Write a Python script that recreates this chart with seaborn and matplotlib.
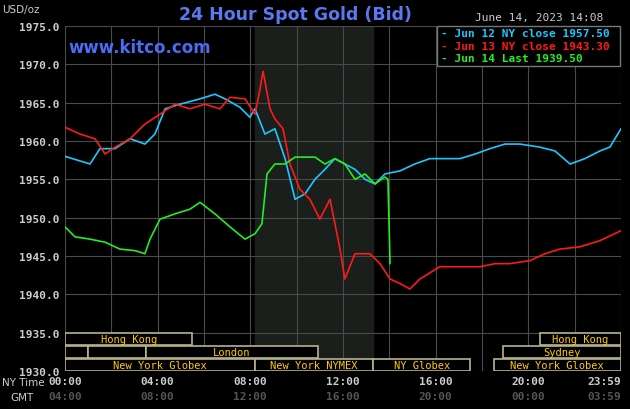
import matplotlib
matplotlib.use("Agg")
import matplotlib.pyplot as plt
from matplotlib.patches import Rectangle
import seaborn as sns
import pandas as pd

# hours since 00:00 NY time, spot price in USD/oz
jun12_hours = [0, 1.08, 1.51, 2.16, 2.81, 3.45, 3.88, 4.32, 4.96, 5.83, 6.47, 6.91, 7.55, 7.98, 8.2, 8.63,
               9.06, 9.5, 9.93, 10.36, 10.79, 11.22, 11.65, 12.08, 12.52, 12.95, 13.38, 13.81, 14.46,
               15.1, 15.75, 16.4, 17.05, 17.7, 18.34, 18.99, 19.64, 20.5, 21.15, 21.8, 22.44, 23.09,
               23.52, 24.0]
jun12_price = [1958.0, 1957.0, 1959.0, 1959.0, 1960.3, 1959.6, 1960.9, 1964.2, 1964.8, 1965.5, 1966.1,
               1965.5, 1964.4, 1963.1, 1964.2, 1960.9, 1961.6, 1957.7, 1952.4, 1953.1, 1955.0, 1956.3,
               1957.7, 1957.0, 1956.3, 1955.0, 1954.4, 1955.7, 1956.1, 1957.0, 1957.7, 1957.7, 1957.7,
               1958.3, 1959.0, 1959.6, 1959.6, 1959.2, 1958.7, 1957.0, 1957.7, 1958.7, 1959.2, 1961.6]

jun13_hours = [0, 0.65, 1.29, 1.73, 2.16, 2.81, 3.45, 4.1, 4.75, 5.39, 6.04, 6.69, 7.12, 7.77, 8.2, 8.42,
               8.55, 8.85, 9.06, 9.41, 9.71, 10.14, 10.57, 11.0, 11.44, 11.87, 12.08, 12.52, 13.16,
               13.6, 14.03, 14.46, 14.89, 15.32, 16.18, 17.05, 17.91, 18.56, 19.2, 20.07, 20.72,
               21.36, 22.23, 23.09, 24.0]
jun13_price = [1961.8, 1960.9, 1960.3, 1958.3, 1959.2, 1960.3, 1962.2, 1963.5, 1964.8, 1964.2, 1964.8,
               1964.2, 1965.7, 1965.5, 1963.5, 1966.8, 1969.1, 1964.2, 1962.9, 1961.6, 1957.0, 1953.7,
               1952.4, 1949.8, 1952.4, 1945.9, 1942.0, 1945.3, 1945.3, 1944.0, 1942.0, 1941.4, 1940.7,
               1942.0, 1943.6, 1943.6, 1943.6, 1944.0, 1944.0, 1944.4, 1945.3, 1945.9, 1946.2, 1947.0,
               1948.3]

jun14_hours = [0, 0.43, 1.08, 1.73, 2.37, 3.02, 3.45, 3.67, 4.1, 4.75, 5.39, 5.83, 6.47, 7.12, 7.77,
               8.2, 8.5, 8.72, 9.06, 9.5, 9.93, 10.36, 10.79, 11.22, 11.65, 12.08, 12.52, 12.95,
               13.38, 13.81, 13.94, 14.03]
jun14_price = [1948.8, 1947.5, 1947.2, 1946.8, 1945.9, 1945.7, 1945.3, 1947.2, 1949.8, 1950.5, 1951.1,
               1952.0, 1950.5, 1948.8, 1947.2, 1947.9, 1949.2, 1955.7, 1957.0, 1957.0, 1957.9, 1957.9,
               1957.9, 1957.0, 1957.7, 1957.0, 1955.0, 1955.7, 1954.4, 1955.3, 1955.0, 1944.0]

legend_labels = ["Jun 12 NY close 1957.50", "Jun 13 NY close 1943.30", "Jun 14 Last 1939.50"]
line_colors = ["#1ec8ff", "#ff1a1a", "#22ee22"]

# sessions: (label, start hour, end hour, row) row 0 = top
sessions = [("Hong Kong", 0, 5.5, 0), ("Hong Kong", 20.5, 24, 0),
            ("", 0, 1.0, 1), ("", 1.0, 3.5, 1), ("London", 3.5, 10.9, 1), ("Sydney", 18.9, 24, 1),
            ("New York Globex", 0, 8.2, 2), ("New York NYMEX", 8.2, 13.3, 2),
            ("NY Globex", 13.3, 17.5, 2), ("New York Globex", 18.5, 24, 2)]
row_bottoms = [1933.4, 1931.7, 1930.0]
row_height = 1.6

tick_hours = [0, 4, 8, 12, 16, 20, 24]
ny_labels = ["00:00", "04:00", "08:00", "12:00", "16:00", "20:00", "23:59"]
gmt_labels = ["04:00", "08:00", "12:00", "16:00", "20:00", "00:00", "03:59"]

sns.set_style("dark")
fig = plt.figure(figsize=(6.3, 4.1), dpi=100, facecolor="black")
ax = fig.add_axes([65 / 630, 1 - 372 / 410, 556 / 630, 345 / 410])
ax.set_facecolor("black")

ax.axvspan(8.2, 13.3, color="#1b1f1b", zorder=0)
for h in range(0, 25, 2):
    ax.axvline(h, color="#4a4a4a", lw=0.8, zorder=1)
for p in range(1930, 1976, 5):
    ax.axhline(p, color="#4a4a4a", lw=0.8, zorder=1)

for hours, price, col in zip([jun12_hours, jun13_hours, jun14_hours],
                             [jun12_price, jun13_price, jun14_price], line_colors):
    df = pd.DataFrame({"h": hours, "p": price})
    sns.lineplot(data=df, x="h", y="p", color=col, lw=1.2, ax=ax, zorder=3)

for label, s, e, row in sessions:
    b = row_bottoms[row]
    ax.add_patch(Rectangle((s, b), e - s, row_height, facecolor="black",
                           edgecolor="#b8b48a", lw=1.2, zorder=4))
    if label:
        ax.text((s + e) / 2, b + row_height / 2, label, color="#ffcc00", fontsize=7.5,
                family="DejaVu Sans Mono", ha="center", va="center", zorder=5)

ax.set_xlim(0, 24)
ax.set_ylim(1930, 1975)
ax.set_yticks(range(1930, 1976, 5))
ax.set_yticklabels([f"{p}.0" for p in range(1930, 1976, 5)], color="#cccccc",
                   family="DejaVu Sans Mono", fontweight="bold", fontsize=8)
ax.set_xticks([])
ax.set_xlabel("")
ax.set_ylabel("")
ax.tick_params(axis="y", length=0, pad=4)
for s in ax.spines.values():
    s.set_visible(False)

for h, ny, gmt in zip(tick_hours, ny_labels, gmt_labels):
    ha = "right" if h == 24 else "center"
    ax.text(h, -0.03, ny, transform=ax.get_xaxis_transform(), ha=ha, va="center",
            color="#cccccc", family="DejaVu Sans Mono", fontweight="bold", fontsize=8)
    ax.text(h, -0.073, gmt, transform=ax.get_xaxis_transform(), ha=ha, va="center",
            color="#555555", family="DejaVu Sans Mono", fontweight="bold", fontsize=8)
fig.text(2 / 630, 1 - 383 / 410, "NY Time", color="#cccccc", fontsize=7.5, va="center")
fig.text(10 / 630, 1 - 398 / 410, "GMT", color="#cccccc", fontsize=7.5, va="center")

# legend box
ax.add_patch(Rectangle(((437 - 65) / 556, 1 - 40 / 345), (620 - 437) / 556, 40 / 345,
                       transform=ax.transAxes, facecolor="black", edgecolor="#777777",
                       lw=1, zorder=6, clip_on=False))
for i, (txt, col) in enumerate(zip(legend_labels, line_colors)):
    fig.text(441 / 630, 1 - (34 + 12.5 * i) / 410, "- " + txt, color=col, fontsize=8,
             family="DejaVu Sans Mono", fontweight="bold", va="center", zorder=7)

fig.text(295 / 630, 1 - 15 / 410, "24 Hour Spot Gold (Bid)", color="#5a78f0", fontsize=12.5,
         fontweight="bold", ha="center", va="center")
fig.text(68 / 630, 1 - 48 / 410, "www.kitco.com", color="#4a6cf7", fontsize=12,
         fontweight="bold", va="center", zorder=7)
fig.text(2 / 630, 1 - 10 / 410, "USD/oz", color="#cccccc", fontsize=7.5, va="center")
fig.text(475 / 630, 1 - 18 / 410, "June 14, 2023 14:08", color="#cccccc", fontsize=8,
         family="DejaVu Sans Mono", va="center")

fig.savefig("out.png", dpi=100, facecolor="black")
